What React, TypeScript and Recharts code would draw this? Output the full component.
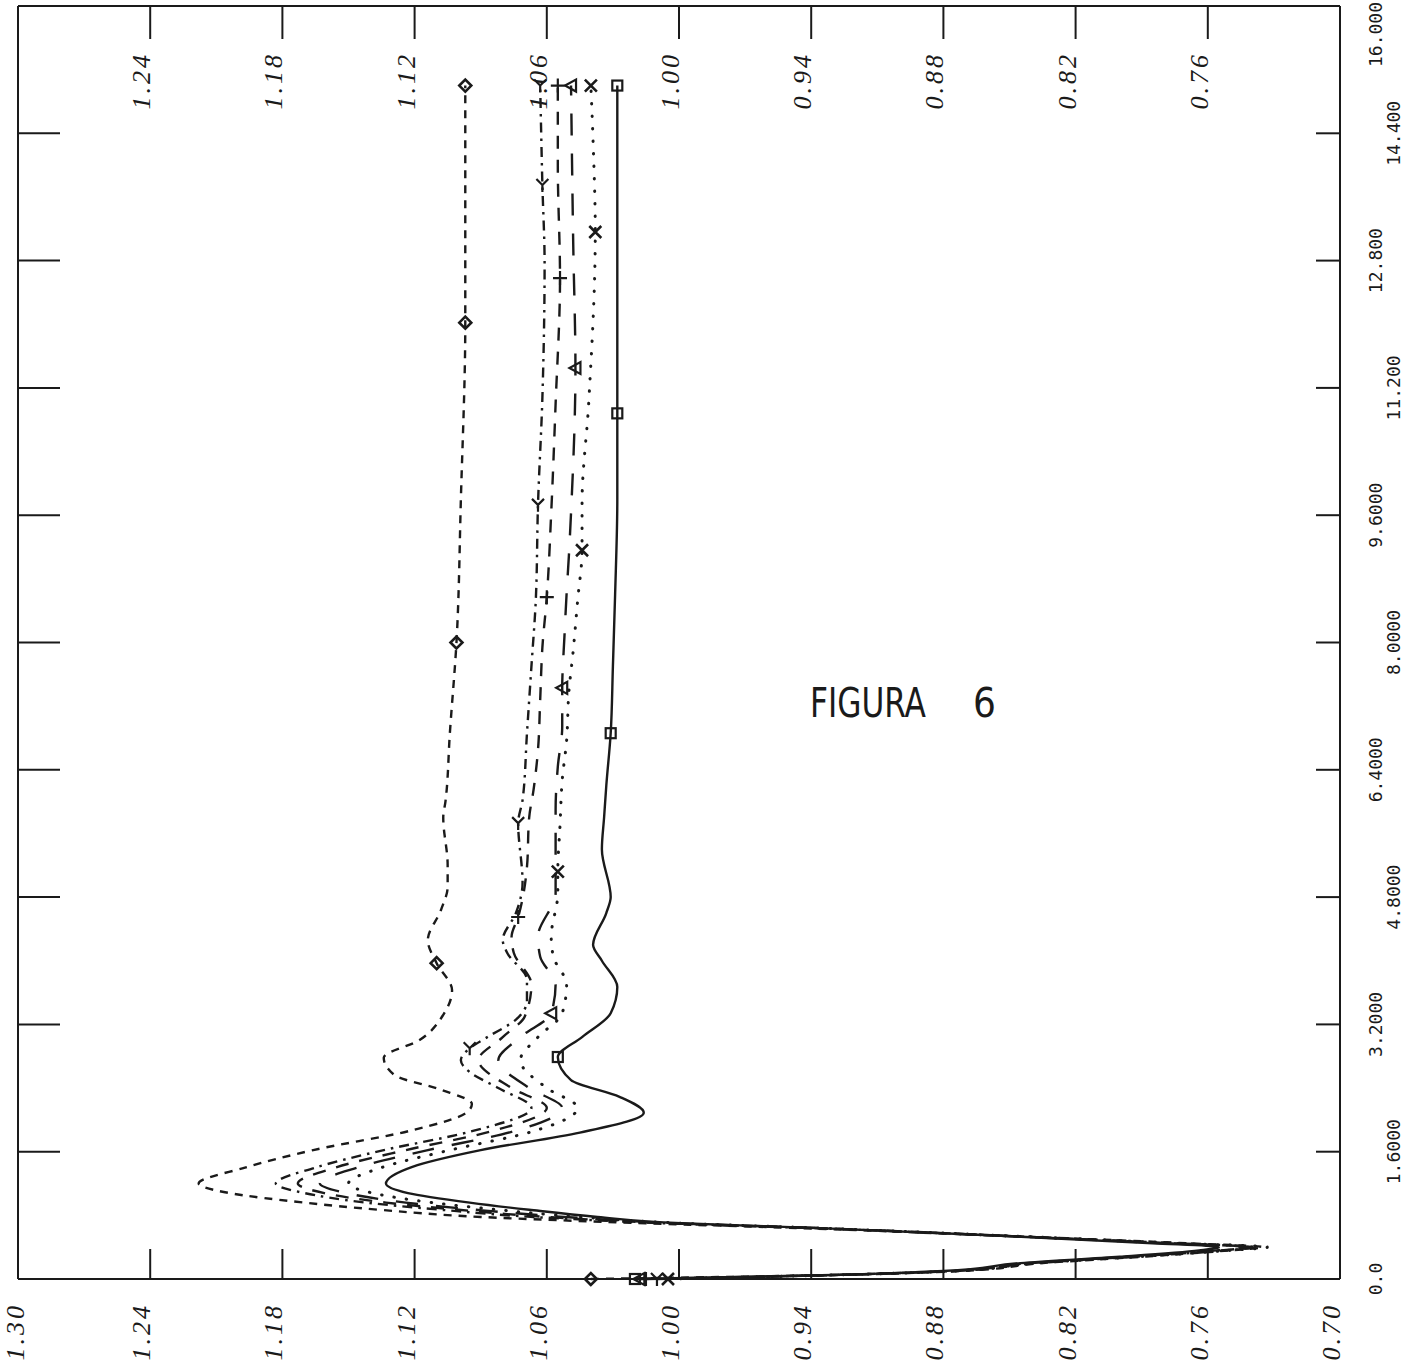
import { LineChart, Line, XAxis, YAxis } from 'recharts'

const INK = '#1a1a1a'
const SERIF = '"Liberation Serif", "DejaVu Serif", serif'
const MONO = '"DejaVu Sans Mono", "Liberation Mono", monospace'
const NARROW = '"Liberation Sans Narrow", "DejaVu Sans Condensed", "Liberation Sans", sans-serif'

// axis ticks
const xTicks = [0, 1.6, 3.2, 4.8, 6.4, 8, 9.6, 11.2, 12.8, 14.4, 16]
const xTickLabels = ['0.0', '1.6000', '3.2000', '4.8000', '6.4000', '8.0000', '9.6000', '11.200', '12.800', '14.400', '16.000']
const yTicks = [0.7, 0.76, 0.82, 0.88, 0.94, 1.0, 1.06, 1.12, 1.18, 1.24, 1.3]

// series: [x, y]
const seriesA: [number, number][] = [
  [0, 1.04], [0.05, 0.93], [0.1, 0.872], [0.2, 0.835], [0.28, 0.79], [0.36, 0.75], [0.4, 0.735],
  [0.45, 0.77], [0.55, 0.86], [0.64, 0.945], [0.7, 1.015], [0.78, 1.09], [0.87, 1.136], [0.96, 1.17],
  [1.08, 1.204], [1.2, 1.218], [1.4, 1.197], [1.62, 1.166], [1.87, 1.121], [2.1, 1.096], [2.2, 1.094],
  [2.38, 1.108], [2.56, 1.129], [2.78, 1.134], [3.0, 1.118], [3.32, 1.107], [3.63, 1.103], [3.97, 1.11],
  [4.26, 1.114], [4.64, 1.108], [4.93, 1.105], [5.2, 1.105], [5.8, 1.107], [6.0, 1.106], [6.86, 1.104],
  [8.0, 1.101], [9.8, 1.099], [12.02, 1.097], [14.35, 1.097], [15, 1.097],
]
const seriesB: [number, number][] = [
  [0, 1.01], [0.05, 0.93], [0.1, 0.875], [0.2, 0.838], [0.28, 0.793], [0.36, 0.752], [0.4, 0.738],
  [0.45, 0.775], [0.55, 0.858], [0.64, 0.94], [0.7, 1.006], [0.78, 1.066], [0.87, 1.108], [0.96, 1.142],
  [1.08, 1.17], [1.2, 1.183], [1.4, 1.165], [1.62, 1.134], [1.85, 1.095], [2.15, 1.067], [2.4, 1.082],
  [2.6, 1.095], [2.75, 1.099], [2.9, 1.095], [3.04, 1.087], [3.26, 1.074], [3.5, 1.069], [3.76, 1.069],
  [4.1, 1.078], [4.26, 1.08], [4.6, 1.074], [4.98, 1.071], [5.73, 1.073], [6.02, 1.071], [6.86, 1.069],
  [7.69, 1.067], [8.53, 1.065], [9.73, 1.064], [11.08, 1.062], [12.77, 1.061], [13.75, 1.062], [15, 1.063],
]
const seriesC: [number, number][] = [
  [0, 1.015], [0.05, 0.93], [0.1, 0.876], [0.2, 0.84], [0.28, 0.795], [0.36, 0.754], [0.4, 0.74],
  [0.45, 0.778], [0.55, 0.858], [0.64, 0.938], [0.7, 1.003], [0.78, 1.06], [0.87, 1.1], [0.96, 1.133],
  [1.08, 1.161], [1.2, 1.173], [1.4, 1.156], [1.62, 1.124], [1.85, 1.086], [2.15, 1.06], [2.4, 1.076],
  [2.75, 1.091], [3.04, 1.08], [3.3, 1.07], [3.7, 1.067], [4.1, 1.075], [4.3, 1.076], [4.55, 1.073],
  [5.18, 1.069], [5.8, 1.068], [6.15, 1.066], [6.65, 1.064], [7.28, 1.063], [7.94, 1.062], [8.57, 1.06],
  [9.63, 1.058], [11.0, 1.056], [12.58, 1.054], [14.0, 1.055], [15, 1.055],
]
const seriesD: [number, number][] = [
  [0, 1.018], [0.05, 0.93], [0.1, 0.877], [0.2, 0.841], [0.28, 0.796], [0.36, 0.756], [0.4, 0.742],
  [0.45, 0.78], [0.55, 0.859], [0.64, 0.937], [0.7, 1.001], [0.78, 1.052], [0.87, 1.092], [0.96, 1.124],
  [1.08, 1.151], [1.2, 1.163], [1.4, 1.146], [1.62, 1.114], [1.85, 1.076], [2.15, 1.053], [2.4, 1.068],
  [2.75, 1.082], [3.04, 1.072], [3.34, 1.058], [3.7, 1.056], [4.05, 1.063], [4.3, 1.064], [4.85, 1.056],
  [5.43, 1.056], [5.9, 1.056], [6.44, 1.055], [6.94, 1.053], [7.43, 1.053], [8.07, 1.052], [8.62, 1.051],
  [9.08, 1.05], [9.63, 1.049], [11.45, 1.047], [13.0, 1.048], [15, 1.049],
]
const seriesE: [number, number][] = [
  [0, 1.005], [0.05, 0.93], [0.1, 0.875], [0.2, 0.838], [0.28, 0.792], [0.36, 0.75], [0.4, 0.733],
  [0.45, 0.775], [0.55, 0.857], [0.64, 0.936], [0.7, 0.998], [0.78, 1.045], [0.87, 1.082], [0.96, 1.112],
  [1.08, 1.139], [1.2, 1.15], [1.4, 1.135], [1.62, 1.104], [1.85, 1.067], [2.15, 1.046], [2.4, 1.06],
  [2.75, 1.072], [3.04, 1.064], [3.34, 1.053], [3.7, 1.051], [4.05, 1.057], [4.3, 1.058], [4.85, 1.055],
  [5.12, 1.055], [5.7, 1.054], [6.27, 1.053], [6.77, 1.051], [7.37, 1.05], [7.9, 1.048], [8.53, 1.046],
  [9.16, 1.044], [9.75, 1.044], [11.0, 1.041], [13.16, 1.038], [14.3, 1.039], [15, 1.04],
]
const seriesF: [number, number][] = [
  [0, 1.02], [0.05, 0.93], [0.1, 0.88], [0.2, 0.845], [0.28, 0.8], [0.36, 0.764], [0.4, 0.755],
  [0.45, 0.785], [0.55, 0.859], [0.64, 0.936], [0.7, 0.999], [0.78, 1.037], [0.87, 1.068], [0.96, 1.095],
  [1.08, 1.123], [1.2, 1.133], [1.41, 1.121], [1.62, 1.09], [1.84, 1.045], [2.09, 1.016], [2.29, 1.027],
  [2.5, 1.049], [2.79, 1.055], [3.04, 1.044], [3.34, 1.031], [3.67, 1.028], [4.0, 1.035], [4.2, 1.039],
  [4.6, 1.033], [4.8, 1.031], [5.4, 1.035], [5.8, 1.034], [6.2, 1.033], [6.86, 1.031], [7.7, 1.03],
  [8.6, 1.029], [9.8, 1.028], [10.88, 1.028], [12.5, 1.028], [14, 1.028], [15, 1.028],
]

// x positions carrying a plot symbol
const marksA = [0, 3.97, 8.0, 12.02, 15]
const marksB = [0, 2.9, 5.73, 9.73, 13.75, 15]
const marksC = [0, 4.55, 8.57, 12.58, 15]
const marksD = [0, 3.34, 7.43, 11.45, 15]
const marksE = [0, 5.12, 9.16, 13.16, 15]
const marksF = [0, 2.79, 6.86, 10.88, 15]

const toRows = (s: [number, number][]) => s.map(([x, y]) => ({ x, y }))

type Shape = 'diamond' | 'wye' | 'plus' | 'tri' | 'cross' | 'square'

function symbol(shape: Shape, cx: number, cy: number) {
  const p = { stroke: INK, strokeWidth: 2.2, fill: 'none' }
  switch (shape) {
    case 'diamond':
      return <path d={`M${cx - 6},${cy} L${cx},${cy - 6} L${cx + 6},${cy} L${cx},${cy + 6} Z`} {...p} strokeWidth={2.6} />
    case 'wye':
      return <path d={`M${cx - 7},${cy} L${cx},${cy} M${cx},${cy} L${cx + 6},${cy - 6} M${cx},${cy} L${cx + 6},${cy + 6}`} {...p} />
    case 'plus':
      return <path d={`M${cx - 7},${cy} L${cx + 7},${cy} M${cx},${cy - 7} L${cx},${cy + 7}`} {...p} />
    case 'tri':
      return <path d={`M${cx},${cy - 6} L${cx - 6},${cy + 5} L${cx + 6},${cy + 5} Z`} {...p} />
    case 'cross':
      return <path d={`M${cx - 6},${cy - 6} L${cx + 6},${cy + 6} M${cx - 6},${cy + 6} L${cx + 6},${cy - 6}`} {...p} strokeWidth={2.6} />
    default:
      return <rect x={cx - 5} y={cy - 5} width={10} height={10} {...p} />
  }
}

const markDot = (marks: number[], shape: Shape) => (props: any) => {
  const { cx, cy, payload, index } = props
  if (!marks.includes(payload.x)) return <g key={index} />
  return <g key={index}>{symbol(shape, cx, cy)}</g>
}

function LeftTick(props: any) {
  const { x, y, payload } = props
  const v = payload.value as number
  const inner = v > 0.71 && v < 1.29
  // the topmost label would run off the sheet, nudge it inside
  const by = v > 1.29 ? y + 6 : y
  return (
    <g>
      {inner && <line x1={x} y1={y} x2={x + 30} y2={y} stroke={INK} strokeWidth={2} />}
      <text x={x - 24} y={by} textAnchor="end" fontFamily={SERIF} fontStyle="italic" fontSize={26} letterSpacing={3} fill={INK}>
        {v.toFixed(2)}
      </text>
    </g>
  )
}

function RightTick(props: any) {
  const { x, y, payload } = props
  const v = payload.value as number
  if (v < 0.71 || v > 1.29) return <g />
  return (
    <g>
      <line x1={x} y1={y} x2={x - 33} y2={y} stroke={INK} strokeWidth={2} />
      <text x={x - 46} y={y} textAnchor="end" fontFamily={SERIF} fontStyle="italic" fontSize={26} letterSpacing={3} fill={INK}>
        {v.toFixed(2)}
      </text>
    </g>
  )
}

function BottomTick(props: any) {
  const { x, y, payload } = props
  const i = xTicks.indexOf(payload.value)
  const last = i === xTicks.length - 1
  const inner = i > 0 && !last
  // labels are staggered in two rows
  const off = i % 2 === 0 ? 42 : 60
  return (
    <g>
      {inner && <line x1={x} y1={y} x2={x} y2={y - 24} stroke={INK} strokeWidth={2} />}
      <text x={last ? x + 4 : x} y={y + off} textAnchor={last ? 'end' : 'middle'} fontFamily={MONO} fontSize={18} fill={INK}>
        {xTickLabels[i]}
      </text>
    </g>
  )
}

function TopTick(props: any) {
  const { x, y, payload } = props
  const i = xTicks.indexOf(payload.value)
  if (i <= 0 || i >= xTicks.length - 1) return <g />
  return <line x1={x} y1={y} x2={x} y2={y + 42} stroke={INK} strokeWidth={2} />
}

const lineCommon = {
  xAxisId: 'b',
  yAxisId: 'l',
  dataKey: 'y',
  type: 'monotone' as const,
  stroke: INK,
  strokeWidth: 2.4,
  activeDot: false,
  isAnimationActive: false,
}

// the original sheet is turned a quarter turn, so the chart is drawn upright and rotated
const CW = 1369
const CH = 1407

export default function App() {
  return (
    <div style={{ position: 'absolute', left: 0, top: 0, width: 1407, height: 1369, background: '#fff', overflow: 'hidden' }}>
      <div
        style={{
          position: 'absolute',
          left: 0,
          top: 0,
          width: CW,
          height: CH,
          transformOrigin: '0 0',
          transform: `translateY(${CW}px) rotate(-90deg)`,
        }}
      >
        <LineChart width={CW} height={CH} margin={{ top: 0, right: 0, bottom: 0, left: 0 }}>
          <XAxis
            xAxisId="b"
            dataKey="x"
            type="number"
            domain={[0, 16]}
            ticks={xTicks}
            interval={0}
            height={67}
            tickSize={0}
            tickMargin={0}
            tickLine={false}
            axisLine={{ stroke: INK, strokeWidth: 2 }}
            tick={<BottomTick />}
          />
          <XAxis
            xAxisId="t"
            orientation="top"
            dataKey="x"
            type="number"
            domain={[0, 16]}
            allowDataOverflow
            ticks={xTicks}
            interval={0}
            height={18}
            tickSize={0}
            tickMargin={0}
            tickLine={false}
            axisLine={{ stroke: INK, strokeWidth: 2 }}
            tick={<TopTick />}
          />
          <YAxis
            yAxisId="l"
            type="number"
            domain={[0.7, 1.3]}
            ticks={yTicks}
            interval={0}
            width={90}
            tickSize={0}
            tickMargin={0}
            tickLine={false}
            axisLine={{ stroke: INK, strokeWidth: 2 }}
            tick={<LeftTick />}
          />
          <YAxis
            yAxisId="r"
            orientation="right"
            type="number"
            domain={[0.7, 1.3]}
            allowDataOverflow
            ticks={yTicks}
            interval={0}
            width={6}
            tickSize={0}
            tickMargin={0}
            tickLine={false}
            axisLine={{ stroke: INK, strokeWidth: 2 }}
            tick={<RightTick />}
          />
          <Line {...lineCommon} data={toRows(seriesA)} strokeDasharray="8 7" dot={markDot(marksA, 'diamond')} />
          <Line {...lineCommon} data={toRows(seriesB)} strokeDasharray="10 6 2.5 6" dot={markDot(marksB, 'wye')} />
          <Line {...lineCommon} data={toRows(seriesC)} strokeDasharray="13 11" dot={markDot(marksC, 'plus')} />
          <Line {...lineCommon} data={toRows(seriesD)} strokeDasharray="22 18" dot={markDot(marksD, 'tri')} />
          <Line {...lineCommon} data={toRows(seriesE)} strokeDasharray="0.5 12" strokeLinecap="round" strokeWidth={3} dot={markDot(marksE, 'cross')} />
          <Line {...lineCommon} data={toRows(seriesF)} dot={markDot(marksF, 'square')} />
        </LineChart>
      </div>
      <svg width={1407} height={1369} style={{ position: 'absolute', left: 0, top: 0, pointerEvents: 'none' }}>
        <text x={810} y={717} fontFamily={NARROW} fontSize={40} fill={INK} textLength={116} lengthAdjust="spacingAndGlyphs">
          FIGURA
        </text>
        <text x={973} y={717} fontFamily={NARROW} fontSize={40} fill={INK}>
          6
        </text>
      </svg>
    </div>
  )
}
